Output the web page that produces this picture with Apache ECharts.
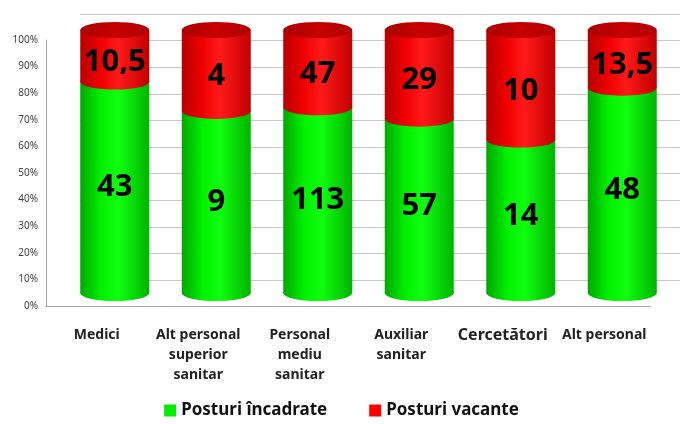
<!DOCTYPE html>
<html>
<head>
<meta charset="utf-8">
<script src="https://cdn.jsdelivr.net/npm/echarts@6/dist/echarts.min.js"></script>
<style>html,body{margin:0;padding:0;background:#fff}#c{width:683px;height:424px}</style>
</head>
<body>
<div id="c"></div>
<script>
const categories = ['Medici', 'Alt personal\nsuperior\nsanitar', 'Personal\nmediu\nsanitar', 'Auxiliar\nsanitar', 'Cercetători', 'Alt personal'];
const posturiIncadrate = [43, 9, 113, 57, 14, 48];
const posturiVacante = [10.5, 4, 47, 29, 10, 13.5];
const seriesNames = ['Posturi încadrate', 'Posturi vacante'];

const pctGreen = posturiIncadrate.map((v, i) => v / (v + posturiVacante[i]) * 100);
const pctRed = posturiVacante.map((v, i) => v / (v + posturiIncadrate[i]) * 100);
const full = pctGreen.map((v, i) => v + pctRed[i]);

const fmt = v => String(v).replace('.', ',');
const G = echarts.graphic.LinearGradient;
const greenGrad = new G(0, 0, 1, 0, [
  {offset: 0, color: '#00a800'}, {offset: 0.3, color: '#00f000'},
  {offset: 0.55, color: '#10ff10'}, {offset: 1, color: '#00b400'}]);
const redGrad = new G(0, 0, 1, 0, [
  {offset: 0, color: '#b80000'}, {offset: 0.3, color: '#f00000'},
  {offset: 0.55, color: '#ff1a1a'}, {offset: 1, color: '#c20000'}]);
const capGrad = new G(0, 0, 1, 0, [
  {offset: 0, color: '#a80000'}, {offset: 0.5, color: '#c80000'}, {offset: 1, color: '#b00000'}]);

const FONT = 'Noto Sans';
const BAR_W = 69;

const chart = echarts.init(document.getElementById('c'), null, {renderer: 'canvas'});
chart.setOption({
  animation: false,
  backgroundColor: '#ffffff',
  textStyle: {fontFamily: FONT},
  grid: [
    {left: 64, right: 10, top: 30, bottom: 131},   // bars
    {left: 46, right: 28, top: 30, bottom: 131},   // category labels
    {left: 46, right: 33, top: 40, bottom: 118},   // front frame with % labels
    {left: 80, right: 3, top: 14, bottom: 144}     // back wall
  ],
  xAxis: [
    {gridIndex: 0, type: 'category', data: categories, show: false},
    {gridIndex: 1, type: 'category', data: categories,
      axisLine: {show: false}, axisTick: {show: false},
      axisLabel: {margin: 32, fontSize: 14, fontWeight: 'bold', color: '#222', lineHeight: 20, interval: 0,
        formatter: v => v === 'Cercetători' ? '{b|' + v + '}' : v,
        rich: {b: {fontSize: 16, fontWeight: 'bold', color: '#222', fontFamily: FONT}}}},
    {gridIndex: 2, type: 'category', data: categories,
      axisLine: {show: true, lineStyle: {color: '#a6a6a6', width: 1}}, axisTick: {show: false}, axisLabel: {show: false}},
    {gridIndex: 3, type: 'category', data: categories, show: false}
  ],
  yAxis: [
    {gridIndex: 0, type: 'value', min: 0, max: 100, show: false},
    {gridIndex: 1, type: 'value', min: 0, max: 100, show: false},
    {gridIndex: 2, type: 'value', min: 0, max: 100, interval: 10,
      axisLine: {show: true, lineStyle: {color: '#a6a6a6', width: 1}}, axisTick: {show: false},
      splitLine: {show: false},
      axisLabel: {formatter: '{value}%', fontSize: 10, color: '#404040', margin: 8}},
    {gridIndex: 3, type: 'value', min: 0, max: 100, interval: 10,
      axisLine: {show: false}, axisTick: {show: false}, axisLabel: {show: false},
      splitLine: {show: true, lineStyle: {color: '#c8c8c8', width: 1}}}
  ],
  legend: {
    bottom: 0, left: 'center', itemWidth: 12, itemHeight: 12, itemGap: 42, icon: 'rect',
    textStyle: {fontSize: 17, fontWeight: 'bold', color: '#111', fontFamily: FONT},
    data: [
      {name: seriesNames[0], itemStyle: {color: '#00ee00'}},
      {name: seriesNames[1], itemStyle: {color: '#ff0000'}}
    ]
  },
  series: [
    {
      name: seriesNames[0], type: 'bar', stack: 'total', barWidth: BAR_W,
      data: pctGreen, itemStyle: {color: greenGrad}, z: 2,
      label: {show: true, position: 'inside', fontSize: 31, fontWeight: 'bold', color: '#000',
        fontFamily: FONT, formatter: p => fmt(posturiIncadrate[p.dataIndex])}
    },
    {
      name: seriesNames[1], type: 'bar', stack: 'total', barWidth: BAR_W,
      data: pctRed, itemStyle: {color: redGrad}, z: 2,
      label: {show: true, position: 'inside', offset: [0, 6], fontSize: 31, fontWeight: 'bold', color: '#000',
        fontFamily: FONT, formatter: p => fmt(posturiVacante[p.dataIndex])}
    },
    {
      name: 'bottom', type: 'pictorialBar', symbol: 'circle', symbolSize: [BAR_W, 16],
      symbolPosition: 'start', symbolOffset: [0, '50%'], data: pctGreen,
      itemStyle: {color: greenGrad}, z: 1, silent: true
    },
    {
      name: 'boundary', type: 'pictorialBar', symbol: 'circle', symbolSize: [BAR_W, 16],
      symbolPosition: 'end', symbolOffset: [0, '-50%'], data: pctGreen,
      itemStyle: {color: redGrad}, z: 3, silent: true
    },
    {
      name: 'top', type: 'pictorialBar', symbol: 'circle', symbolSize: [BAR_W, 16],
      symbolPosition: 'end', symbolOffset: [0, '-50%'], data: full,
      itemStyle: {color: capGrad}, z: 3, silent: true
    }
  ]
});
</script>
</body>
</html>
